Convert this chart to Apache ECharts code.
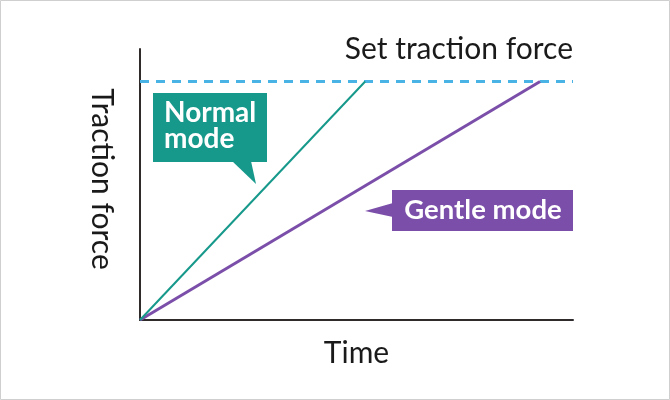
<!DOCTYPE html>
<html>
<head>
<meta charset="utf-8">
<script src="https://cdn.jsdelivr.net/npm/echarts@6/dist/echarts.min.js"></script>
<style>
  html, body { margin: 0; padding: 0; background: #fff; }
  #main { width: 670px; height: 400px; }
</style>
</head>
<body>
<div id="main"></div>
<script>
// values (time 0..100, force 0..100)
const setForce = 88;
const normalTime = [0, 52];
const normalForce = [0, setForce];
const gentleTime = [0, 92.4];
const gentleForce = [0, setForce];
const limitTime = [0, 100];
const limitForce = [setForce, setForce];

const FONT = 'Lato';
const teal = '#16998b';
const purple = '#7b4fa9';

function pairs(xs, ys) {
  return xs.map(function (x, i) { return [x, ys[i]]; });
}

var chart = echarts.init(document.getElementById('main'), null, { renderer: 'canvas' });

var option = {
  backgroundColor: '#fff',
  animation: false,
  grid: { left: 140, right: 97, top: 49, bottom: 80 },
  xAxis: {
    type: 'value', min: 0, max: 100,
    name: 'Time', nameLocation: 'middle', nameGap: 18,
    nameTextStyle: { fontFamily: FONT, fontSize: 30, color: '#1a1a1a' },
    axisLine: { show: true, lineStyle: { color: '#2e2b2a', width: 2 } },
    axisTick: { show: false }, axisLabel: { show: false }, splitLine: { show: false }
  },
  yAxis: {
    type: 'value', min: 0, max: 100,
    name: 'Traction force', nameLocation: 'middle', nameGap: 23, nameRotate: -90,
    nameTextStyle: { fontFamily: FONT, fontSize: 30, color: '#1a1a1a', padding: [0, 11, 0, 0] },
    axisLine: { show: true, lineStyle: { color: '#2e2b2a', width: 2 } },
    axisTick: { show: false }, axisLabel: { show: false }, splitLine: { show: false }
  },
  series: [
    {
      name: 'Set traction force', type: 'line', data: pairs(limitTime, limitForce),
      showSymbol: false, lineStyle: { color: '#4ab3e6', width: 3, type: [9, 7] }, z: 1
    },
    {
      name: 'Normal mode', type: 'line', data: pairs(normalTime, normalForce),
      showSymbol: false, lineStyle: { color: teal, width: 2 }, z: 3
    },
    {
      name: 'Gentle mode', type: 'line', data: pairs(gentleTime, gentleForce),
      showSymbol: false, lineStyle: { color: purple, width: 3 }, z: 2
    }
  ],
  graphic: [
    {
      type: 'rect', shape: { x: 0.5, y: 0.5, width: 669, height: 399 },
      style: { fill: null, stroke: '#cfcfcf', lineWidth: 1 }, silent: true
    },
    {
      type: 'text', x: 573, y: 49,
      style: { text: 'Set traction force', fontFamily: FONT, fontSize: 30, fill: '#1a1a1a',
               align: 'right', verticalAlign: 'middle' }
    },
    // Normal mode callout
    {
      type: 'rect', shape: { x: 153, y: 93, width: 114, height: 69 },
      style: { fill: teal }
    },
    {
      type: 'polygon', shape: { points: [[232, 161], [256, 184], [251, 161]] },
      style: { fill: teal }
    },
    {
      type: 'text', x: 164, y: 126,
      style: { text: 'Normal\nmode', fontFamily: FONT, fontWeight: 'bold', fontSize: 28,
               lineHeight: 26, fill: '#fff', align: 'left', verticalAlign: 'middle' }
    },
    // Gentle mode callout
    {
      type: 'rect', shape: { x: 392, y: 190, width: 181, height: 41 },
      style: { fill: purple }
    },
    {
      type: 'polygon', shape: { points: [[393, 203], [365, 211], [393, 217]] },
      style: { fill: purple }
    },
    {
      type: 'text', x: 483, y: 210,
      style: { text: 'Gentle mode', fontFamily: FONT, fontWeight: 'bold', fontSize: 27.5,
               fill: '#fff', align: 'center', verticalAlign: 'middle' }
    }
  ]
};

chart.setOption(option);
</script>
</body>
</html>
